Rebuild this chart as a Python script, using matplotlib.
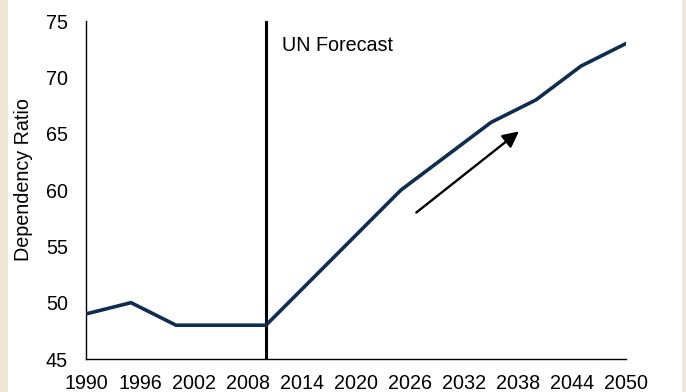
import matplotlib
matplotlib.use("Agg")
import matplotlib.pyplot as plt
from matplotlib.patches import Rectangle

plt.rcParams['font.family'] = ['Liberation Sans', 'DejaVu Sans']

years = [1990, 1995, 2000, 2005, 2010, 2015, 2020, 2025, 2030, 2035, 2040, 2045, 2050]
ratio = [49, 50, 48, 48, 48, 52, 56, 60, 63, 66, 68, 71, 73]
tick_years = [1990, 1996, 2002, 2008, 2014, 2020, 2026, 2032, 2038, 2044, 2050]
y_ticks = [45, 50, 55, 60, 65, 70, 75]
forecast_start = 2010
arrow_from = (2026.7, 58.0)
arrow_to = (2038.1, 65.2)

fig = plt.figure(figsize=(6.86, 3.92), dpi=100)
fig.patch.set_facecolor('white')

# beige side borders
beige = '#EEE8D6'
fig.patches.append(Rectangle((0, 0), 8 / 686, 1, transform=fig.transFigure,
                             facecolor=beige, edgecolor='none', zorder=0))
fig.patches.append(Rectangle((682 / 686, 0), 4 / 686, 1, transform=fig.transFigure,
                             facecolor=beige, edgecolor='none', zorder=0))

ax = fig.add_axes([86 / 686, 33 / 392, 540 / 686, 338 / 392])
ax.plot(years, ratio, color='#0E2D50', lw=2.6, solid_joinstyle='miter', zorder=3)
ax.axvline(forecast_start, color='black', lw=2.2, zorder=2)
ax.text(2011.8, 72.3, 'UN Forecast', fontsize=14.2, va='baseline', ha='left')
ax.annotate('', xy=arrow_to, xytext=arrow_from,
            arrowprops=dict(arrowstyle='-|>', color='black', lw=1.7,
                            mutation_scale=24, shrinkA=0, shrinkB=0))

ax.set_xlim(1990, 2050)
ax.set_ylim(45, 75)
ax.set_xticks(tick_years)
ax.set_yticks(y_ticks)
ax.tick_params(axis='both', length=0, labelsize=14.2)
ax.tick_params(axis='x', pad=11)
ax.tick_params(axis='y', pad=13)
ax.spines['top'].set_visible(False)
ax.spines['right'].set_visible(False)
ax.spines['left'].set_linewidth(1.0)
ax.spines['bottom'].set_linewidth(1.0)
ax.set_ylabel('Dependency Ratio', fontsize=14.2)
ax.yaxis.set_label_coords(-0.098, 0.53)

fig.savefig('out.png', dpi=100)
